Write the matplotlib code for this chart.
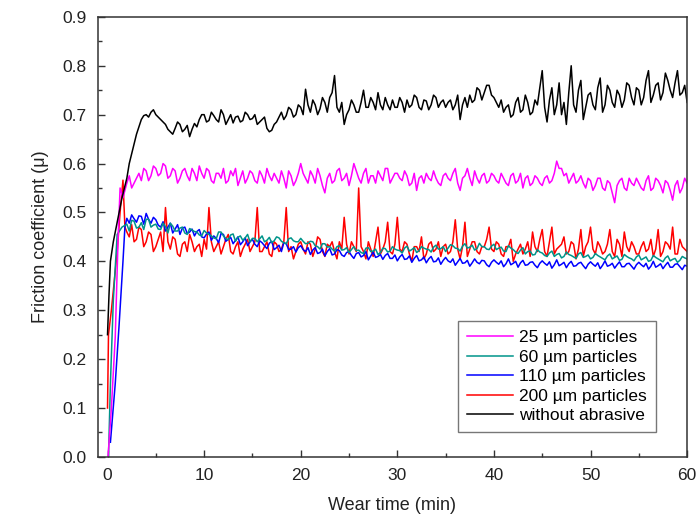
import numpy as np
import matplotlib.pyplot as plt
from matplotlib.ticker import MultipleLocator

plt.rcParams['font.family'] = ['Liberation Sans', 'DejaVu Sans']

# =========================
# DATA
# =========================
# running-in part of each curve (min, mu)
ramp_black_t = [0.0, 0.15, 0.3, 0.6, 1.0, 1.5]
ramp_black = [0.25, 0.33, 0.40, 0.44, 0.48, 0.53]
ramp_25_t = [0.05, 0.4, 0.8, 1.1, 1.3, 1.6]
ramp_25 = [0.0, 0.10, 0.245, 0.45, 0.55, 0.53]
ramp_60_t = [0.1, 0.3, 0.6, 1.0, 1.5]
ramp_60 = [0.0, 0.15, 0.32, 0.455, 0.47]
ramp_110_t = [0.3, 0.8, 1.2, 1.6, 1.8]
ramp_110 = [0.03, 0.15, 0.27, 0.40, 0.47]
ramp_200_t = [0.0, 0.1, 0.4, 0.7, 1.0, 1.3, 1.6, 1.8]
ramp_200 = [0.10, 0.25, 0.30, 0.36, 0.42, 0.50, 0.566, 0.47]

# steady part: readings every 0.5 min (2 ... 60) and in between (2.25 ... 59.75)
time = np.arange(2.0, 60.01, 0.5)
time_mid = np.arange(2.25, 59.76, 0.5)

mu_black = [
    0.57, 0.62, 0.66, 0.69, 0.70, 0.705,
    0.70, 0.69, 0.68, 0.665, 0.672, 0.68, 0.67, 0.655, 0.682, 0.69,
    0.70, 0.688, 0.698, 0.685, 0.70, 0.69, 0.683, 0.697, 0.688, 0.70,
    0.692, 0.68, 0.69, 0.672, 0.668, 0.685, 0.705, 0.698, 0.71, 0.70,
    0.715, 0.752, 0.705, 0.72, 0.712, 0.725, 0.735, 0.78, 0.705, 0.68,
    0.71, 0.72, 0.705, 0.75, 0.715, 0.725, 0.745, 0.71, 0.72, 0.73,
    0.715, 0.725, 0.73, 0.72, 0.735, 0.71, 0.728, 0.72, 0.735, 0.725,
    0.715, 0.73, 0.72, 0.69, 0.735, 0.74, 0.73, 0.75, 0.745, 0.76,
    0.735, 0.715, 0.705, 0.72, 0.70, 0.735, 0.71, 0.725, 0.705, 0.72,
    0.79, 0.685, 0.755, 0.72, 0.70, 0.68, 0.80, 0.705, 0.77, 0.715,
    0.745, 0.71, 0.775, 0.72, 0.75, 0.715, 0.74, 0.73, 0.76, 0.72,
    0.75, 0.735, 0.79, 0.74, 0.765, 0.745, 0.77, 0.735, 0.79, 0.745,
    0.725,
]
mu_black_mid = [
    0.60, 0.64, 0.675, 0.698, 0.695, 0.71,
    0.695, 0.685, 0.67, 0.66, 0.685, 0.665, 0.678, 0.67, 0.675, 0.70,
    0.685, 0.705, 0.69, 0.71, 0.68, 0.70, 0.695, 0.685, 0.705, 0.69,
    0.70, 0.685, 0.695, 0.665, 0.68, 0.695, 0.69, 0.715, 0.695, 0.72,
    0.70, 0.72, 0.73, 0.70, 0.735, 0.705, 0.745, 0.715, 0.725, 0.70,
    0.73, 0.705, 0.725, 0.715, 0.735, 0.71, 0.72, 0.735, 0.71, 0.715,
    0.735, 0.705, 0.715, 0.74, 0.715, 0.73, 0.71, 0.74, 0.715, 0.73,
    0.725, 0.71, 0.74, 0.72, 0.715, 0.725, 0.755, 0.73, 0.76, 0.74,
    0.725, 0.73, 0.715, 0.695, 0.725, 0.705, 0.74, 0.70, 0.73, 0.755,
    0.715, 0.73, 0.70, 0.765, 0.725, 0.745, 0.72, 0.75, 0.69, 0.74,
    0.72, 0.755, 0.705, 0.76, 0.725, 0.75, 0.715, 0.765, 0.735, 0.755,
    0.72, 0.77, 0.725, 0.76, 0.73, 0.785, 0.75, 0.765, 0.74, 0.76,
]

mu_25 = [
    0.56, 0.55, 0.57, 0.565, 0.585, 0.575,
    0.59, 0.58, 0.595, 0.575, 0.585, 0.57, 0.59, 0.565, 0.58, 0.595,
    0.57, 0.585, 0.56, 0.58, 0.59, 0.565, 0.575, 0.555, 0.585, 0.57,
    0.58, 0.56, 0.575, 0.59, 0.565, 0.57, 0.585, 0.55, 0.575, 0.565,
    0.60, 0.57, 0.585, 0.56, 0.575, 0.54, 0.58, 0.565, 0.59, 0.57,
    0.555, 0.60, 0.57, 0.58, 0.56, 0.575, 0.585, 0.565, 0.59, 0.57,
    0.58, 0.565, 0.575, 0.56, 0.545, 0.575, 0.58, 0.565, 0.57, 0.555,
    0.58, 0.565, 0.59, 0.545, 0.575, 0.57, 0.585, 0.56, 0.58, 0.565,
    0.575, 0.56, 0.57, 0.555, 0.58, 0.565, 0.55, 0.575, 0.56, 0.57,
    0.555, 0.575, 0.565, 0.605, 0.59, 0.58, 0.57, 0.56, 0.575, 0.55,
    0.565, 0.555, 0.57, 0.545, 0.56, 0.52, 0.565, 0.55, 0.57, 0.555,
    0.56, 0.545, 0.575, 0.55, 0.565, 0.54, 0.56, 0.525, 0.565, 0.55,
    0.56,
]
mu_25_mid = [
    0.575, 0.56, 0.58, 0.59, 0.565, 0.595,
    0.575, 0.60, 0.57, 0.59, 0.56, 0.585, 0.575, 0.59, 0.565, 0.58,
    0.59, 0.565, 0.58, 0.57, 0.56, 0.585, 0.59, 0.57, 0.56, 0.585,
    0.565, 0.585, 0.56, 0.575, 0.58, 0.56, 0.57, 0.585, 0.555, 0.58,
    0.58, 0.56, 0.575, 0.59, 0.555, 0.57, 0.56, 0.585, 0.565, 0.58,
    0.575, 0.585, 0.56, 0.59, 0.575, 0.56, 0.575, 0.59, 0.56, 0.58,
    0.57, 0.585, 0.555, 0.58, 0.57, 0.56, 0.57, 0.585, 0.56, 0.575,
    0.57, 0.58, 0.56, 0.57, 0.59, 0.555, 0.57, 0.575, 0.56, 0.58,
    0.565, 0.58, 0.56, 0.575, 0.56, 0.58, 0.57, 0.555, 0.575, 0.56,
    0.57, 0.56, 0.58, 0.59, 0.575, 0.56, 0.58, 0.565, 0.56, 0.57,
    0.545, 0.57, 0.55, 0.565, 0.54, 0.555, 0.57, 0.545, 0.56, 0.57,
    0.55, 0.565, 0.545, 0.57, 0.555, 0.565, 0.545, 0.555, 0.54, 0.57,
]

mu_60 = [
    0.476, 0.484, 0.468, 0.479, 0.486, 0.47,
    0.476, 0.465, 0.471, 0.478, 0.462, 0.468, 0.458, 0.467, 0.461, 0.454,
    0.463, 0.455, 0.448, 0.46, 0.452, 0.444, 0.456, 0.449, 0.443, 0.455,
    0.447, 0.44, 0.452, 0.443, 0.438, 0.45, 0.441, 0.436, 0.448, 0.44,
    0.447, 0.436, 0.441, 0.432, 0.425, 0.436, 0.43, 0.421, 0.432, 0.424,
    0.418, 0.43, 0.423, 0.416, 0.428, 0.421, 0.414, 0.427, 0.419, 0.43,
    0.423, 0.417, 0.431, 0.424, 0.418, 0.43, 0.425, 0.419, 0.433, 0.426,
    0.42, 0.434, 0.427, 0.421, 0.436, 0.429, 0.423, 0.437, 0.43, 0.424,
    0.435, 0.427, 0.421, 0.432, 0.424, 0.416, 0.428, 0.42, 0.413, 0.424,
    0.417, 0.41, 0.421, 0.414, 0.407, 0.419, 0.412, 0.406, 0.418, 0.41,
    0.405, 0.416, 0.409, 0.403, 0.415, 0.408, 0.402, 0.414, 0.407, 0.401,
    0.413, 0.406, 0.40, 0.412, 0.405, 0.399, 0.411, 0.404, 0.398, 0.41,
    0.405,
]
mu_60_mid = [
    0.462, 0.482, 0.47, 0.465, 0.486, 0.474,
    0.466, 0.478, 0.458, 0.472, 0.462, 0.47, 0.455, 0.464, 0.46, 0.452,
    0.458, 0.452, 0.446, 0.46, 0.447, 0.454, 0.441, 0.452, 0.448, 0.44,
    0.447, 0.446, 0.44, 0.449, 0.442, 0.448, 0.438, 0.446, 0.442, 0.44,
    0.441, 0.437, 0.44, 0.43, 0.436, 0.429, 0.425, 0.43, 0.423, 0.428,
    0.424, 0.422, 0.418, 0.427, 0.42, 0.425, 0.418, 0.426, 0.421, 0.425,
    0.422, 0.427, 0.421, 0.428, 0.422, 0.427, 0.424, 0.429, 0.425, 0.43,
    0.427, 0.432, 0.426, 0.431, 0.427, 0.433, 0.426, 0.43, 0.425, 0.431,
    0.424, 0.429, 0.42, 0.427, 0.419, 0.423, 0.415, 0.421, 0.414, 0.419,
    0.412, 0.417, 0.41, 0.416, 0.41, 0.414, 0.409, 0.415, 0.408, 0.413,
    0.408, 0.412, 0.406, 0.411, 0.405, 0.411, 0.404, 0.41, 0.405, 0.409,
    0.403, 0.409, 0.402, 0.408, 0.402, 0.407, 0.401, 0.406, 0.402, 0.407,
]

mu_110 = [
    0.488, 0.495, 0.48, 0.492, 0.498, 0.478,
    0.485, 0.47, 0.462, 0.478, 0.466, 0.455, 0.47, 0.46, 0.452, 0.465,
    0.448, 0.46, 0.452, 0.438, 0.455, 0.445, 0.436, 0.45, 0.44, 0.432,
    0.445, 0.43, 0.438, 0.426, 0.441, 0.428, 0.42, 0.436, 0.425, 0.419,
    0.432, 0.42, 0.414, 0.428, 0.418, 0.411, 0.426, 0.415, 0.422, 0.41,
    0.42, 0.406, 0.418, 0.412, 0.403, 0.419, 0.41, 0.404, 0.416, 0.406,
    0.401, 0.414, 0.405, 0.398, 0.412, 0.403, 0.397, 0.41, 0.40, 0.394,
    0.408, 0.398, 0.392, 0.406, 0.397, 0.39, 0.405, 0.395, 0.401, 0.389,
    0.403, 0.394, 0.389, 0.405, 0.396, 0.388, 0.402, 0.393, 0.399, 0.387,
    0.401, 0.392, 0.386, 0.403, 0.394, 0.387, 0.40, 0.391, 0.398, 0.385,
    0.399, 0.39, 0.385, 0.401, 0.392, 0.386, 0.399, 0.389, 0.396, 0.384,
    0.398, 0.389, 0.384, 0.40, 0.391, 0.385, 0.398, 0.388, 0.395, 0.383,
    0.39,
]
mu_110_mid = [
    0.478, 0.487, 0.493, 0.476, 0.486, 0.49,
    0.474, 0.481, 0.47, 0.458, 0.475, 0.468, 0.457, 0.466, 0.461, 0.45,
    0.456, 0.443, 0.447, 0.457, 0.441, 0.449, 0.443, 0.434, 0.448, 0.44,
    0.435, 0.442, 0.432, 0.437, 0.424, 0.433, 0.438, 0.424, 0.43, 0.428,
    0.424, 0.428, 0.423, 0.416, 0.425, 0.42, 0.413, 0.424, 0.413, 0.418,
    0.412, 0.416, 0.409, 0.42, 0.411, 0.408, 0.414, 0.412, 0.406, 0.413,
    0.409, 0.404, 0.411, 0.406, 0.401, 0.409, 0.405, 0.399, 0.407, 0.402,
    0.401, 0.405, 0.399, 0.396, 0.402, 0.397, 0.398, 0.402, 0.393, 0.398,
    0.398, 0.401, 0.395, 0.393, 0.40, 0.397, 0.392, 0.398, 0.392, 0.396,
    0.396, 0.399, 0.393, 0.391, 0.398, 0.395, 0.39, 0.396, 0.391, 0.394,
    0.394, 0.397, 0.392, 0.39, 0.396, 0.393, 0.389, 0.395, 0.39, 0.393,
    0.393, 0.396, 0.39, 0.388, 0.395, 0.392, 0.388, 0.394, 0.389, 0.392,
]

mu_200 = [
    0.46, 0.475, 0.445, 0.465, 0.44, 0.455,
    0.43, 0.46, 0.51, 0.425, 0.445, 0.41, 0.44, 0.455, 0.42, 0.435,
    0.445, 0.51, 0.42, 0.44, 0.43, 0.455, 0.415, 0.44, 0.425, 0.445,
    0.43, 0.51, 0.42, 0.44, 0.41, 0.435, 0.425, 0.51, 0.43, 0.42,
    0.44, 0.415, 0.435, 0.425, 0.445, 0.41, 0.43, 0.42, 0.44, 0.49,
    0.415, 0.43, 0.55, 0.42, 0.44, 0.41, 0.47, 0.425, 0.48, 0.415,
    0.49, 0.42, 0.435, 0.40, 0.43, 0.45, 0.415, 0.44, 0.425, 0.41,
    0.435, 0.42, 0.485, 0.405, 0.48, 0.425, 0.44, 0.415, 0.43, 0.47,
    0.42, 0.435, 0.41, 0.43, 0.40, 0.425, 0.415, 0.44, 0.46, 0.42,
    0.465, 0.41, 0.47, 0.425, 0.435, 0.415, 0.44, 0.405, 0.465, 0.43,
    0.47, 0.415, 0.43, 0.42, 0.465, 0.41, 0.435, 0.46, 0.42, 0.43,
    0.415, 0.44, 0.425, 0.41, 0.465, 0.42, 0.435, 0.47, 0.415, 0.43,
    0.42,
]
mu_200_mid = [
    0.45, 0.44, 0.47, 0.43, 0.46, 0.42,
    0.445, 0.42, 0.44, 0.45, 0.415, 0.435, 0.42, 0.44, 0.43, 0.41,
    0.425, 0.44, 0.43, 0.415, 0.445, 0.42, 0.43, 0.41, 0.435, 0.42,
    0.44, 0.42, 0.43, 0.415, 0.44, 0.42, 0.44, 0.42, 0.405, 0.435,
    0.425, 0.44, 0.41, 0.45, 0.42, 0.435, 0.44, 0.405, 0.425, 0.435,
    0.44, 0.42, 0.43, 0.405, 0.425, 0.44, 0.415, 0.44, 0.42, 0.435,
    0.425, 0.44, 0.415, 0.43, 0.42, 0.405, 0.435, 0.42, 0.44, 0.43,
    0.415, 0.44, 0.425, 0.43, 0.41, 0.44, 0.42, 0.43, 0.445, 0.425,
    0.44, 0.415, 0.43, 0.445, 0.415, 0.435, 0.425, 0.41, 0.43, 0.445,
    0.42, 0.44, 0.415, 0.43, 0.45, 0.42, 0.435, 0.425, 0.41, 0.44,
    0.425, 0.44, 0.415, 0.435, 0.42, 0.445, 0.41, 0.43, 0.44, 0.415,
    0.43, 0.42, 0.445, 0.425, 0.41, 0.44, 0.425, 0.415, 0.445, 0.425,
]

labels = ["25 µm particles", "60 µm particles", "110 µm particles",
          "200 µm particles", "without abrasive"]
colors = ["#ff00ff", "#00948a", "#0000ff", "#ff0000", "#000000"]

series = [
    (ramp_25_t, ramp_25, mu_25, mu_25_mid),
    (ramp_60_t, ramp_60, mu_60, mu_60_mid),
    (ramp_110_t, ramp_110, mu_110, mu_110_mid),
    (ramp_200_t, ramp_200, mu_200, mu_200_mid),
    (ramp_black_t, ramp_black, mu_black, mu_black_mid),
]


def merge(t0, m0, m, m_mid):
    t = np.concatenate([t0, time, time_mid])
    y = np.concatenate([m0, m, m_mid])
    order = np.argsort(t, kind='stable')
    return t[order], y[order]


# =========================
# PLOT
# =========================
fig = plt.figure(figsize=(6.99, 5.27), dpi=100)
ax = fig.add_axes([0.140, 0.133, 0.843, 0.835])

draw_order = [3, 2, 1, 0, 4]
lines = {}
for i in draw_order:
    t, y = merge(*series[i])
    lines[i], = ax.plot(t, y, color=colors[i], lw=1.1, label=labels[i])

ax.set_xlim(-1, 60)
ax.set_ylim(0, 0.9)
ax.xaxis.set_major_locator(MultipleLocator(10))
ax.xaxis.set_minor_locator(MultipleLocator(5))
ax.yaxis.set_major_locator(MultipleLocator(0.1))
ax.yaxis.set_minor_locator(MultipleLocator(0.05))
ax.yaxis.set_major_formatter(plt.FormatStrFormatter('%.1f'))
ax.tick_params(which='major', direction='in', length=5, width=1, labelsize=12.5,
               colors='#333333', labelcolor='#222222', pad=8)
ax.tick_params(which='minor', direction='in', length=3, width=1, colors='#333333')
ax.tick_params(top=False, right=False)
for s in ax.spines.values():
    s.set_color('#333333')
    s.set_linewidth(1.1)

ax.set_xlabel("Wear time (min)", fontsize=13, color='#222222', labelpad=10)
ax.set_ylabel("Friction coefficient (μ)", fontsize=13, color='#222222', labelpad=10)

leg = ax.legend([lines[i] for i in range(5)], labels, loc='lower right',
                bbox_to_anchor=(0.947, 0.057), borderaxespad=0, fontsize=12.5,
                frameon=True, fancybox=False, handlelength=2.7,
                handletextpad=0.35, labelspacing=0.25, borderpad=0.5)
leg.get_frame().set_edgecolor('#555555')
leg.get_frame().set_linewidth(1.0)

fig.savefig("out.png", dpi=100)
